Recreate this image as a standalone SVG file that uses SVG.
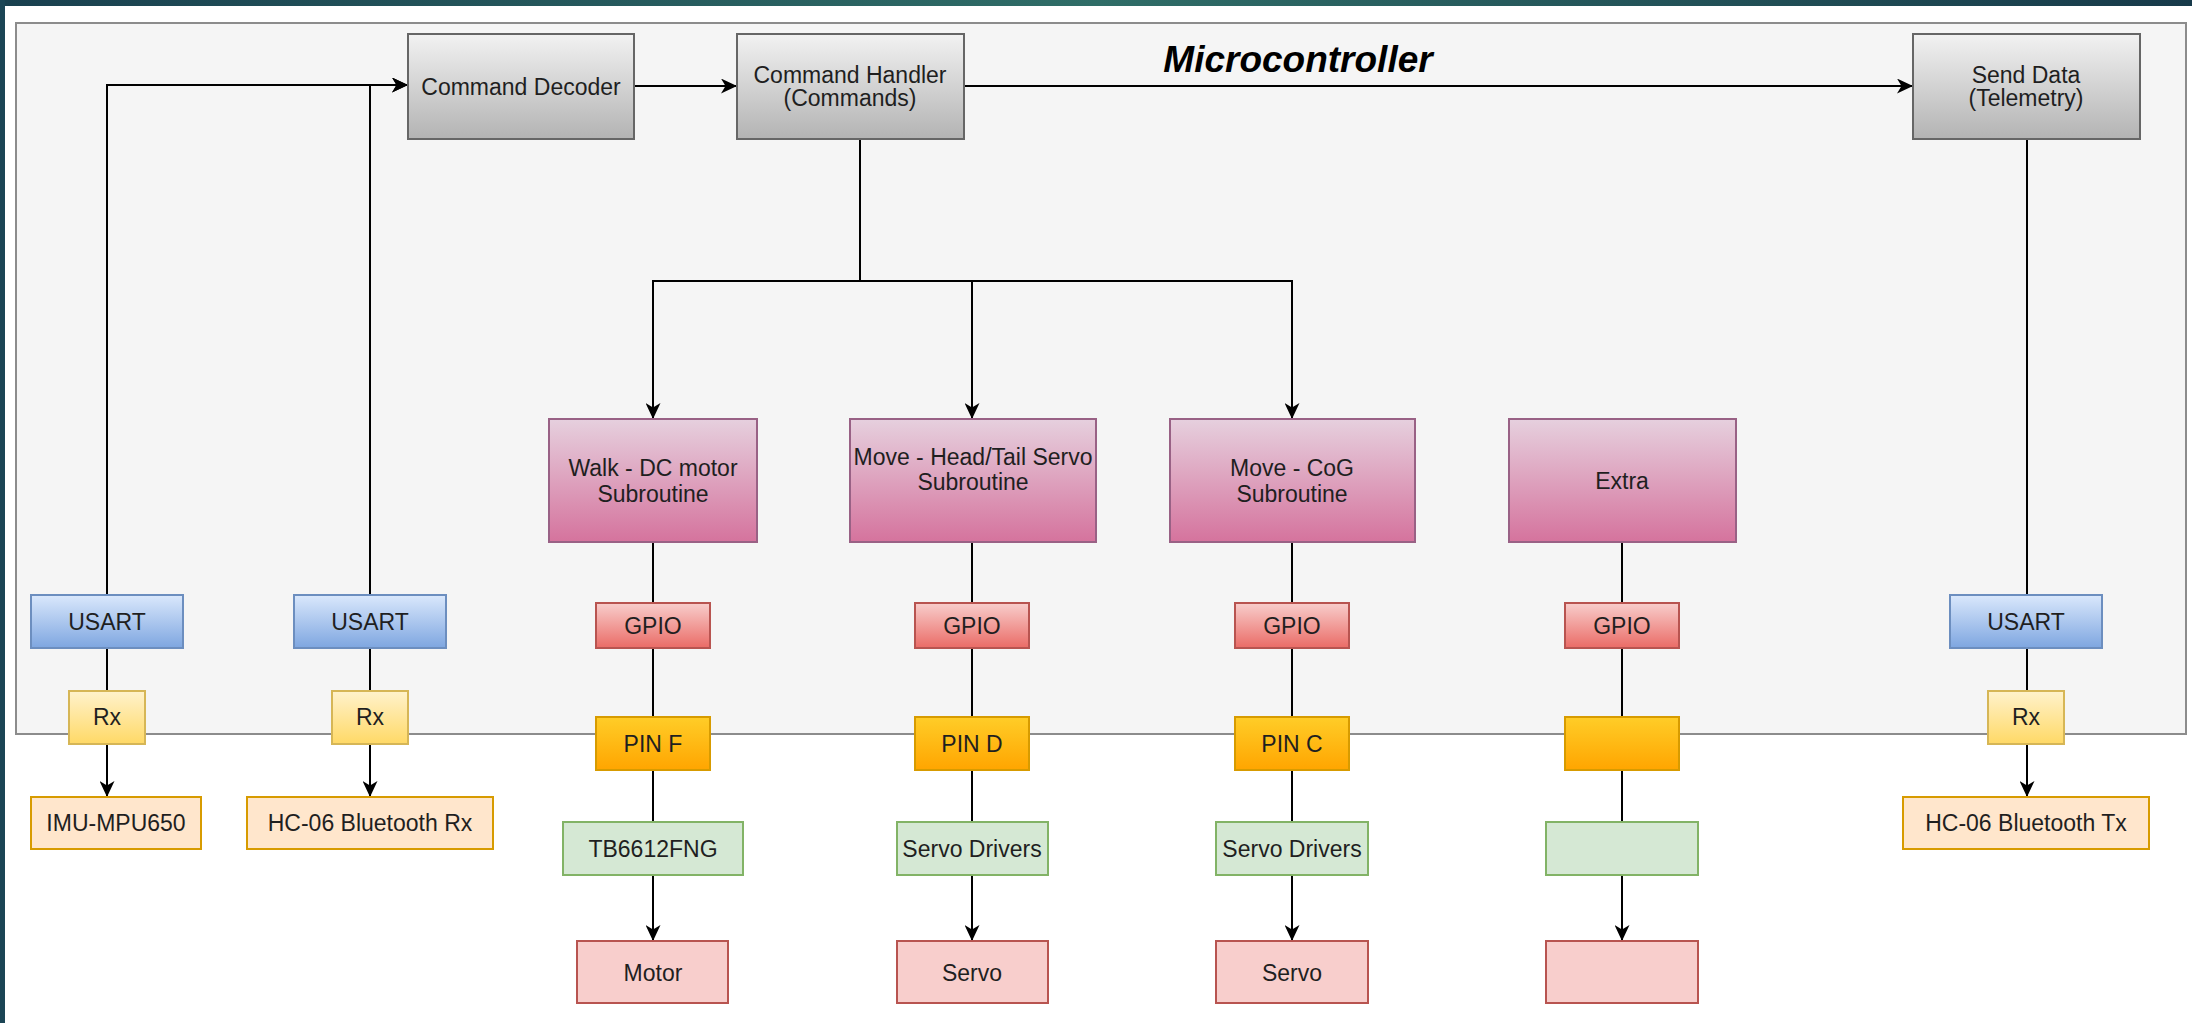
<svg xmlns="http://www.w3.org/2000/svg" width="2192" height="1023" viewBox="0 0 2192 1023">
<defs>
<linearGradient id="band" x1="0" y1="0" x2="1" y2="0">
<stop offset="0" stop-color="#19404f"/><stop offset="0.5" stop-color="#2f6d67"/><stop offset="1" stop-color="#173a4a"/>
</linearGradient>
<linearGradient id="gGray" x1="0" y1="0" x2="0" y2="1"><stop offset="0" stop-color="#f2f2f2"/><stop offset="1" stop-color="#b3b3b3"/></linearGradient>
<linearGradient id="gPink" x1="0" y1="0" x2="0" y2="1"><stop offset="0" stop-color="#e6d0de"/><stop offset="1" stop-color="#d5739d"/></linearGradient>
<linearGradient id="gBlue" x1="0" y1="0" x2="0" y2="1"><stop offset="0" stop-color="#dae8fc"/><stop offset="1" stop-color="#7ea6e0"/></linearGradient>
<linearGradient id="gRed" x1="0" y1="0" x2="0" y2="1"><stop offset="0" stop-color="#f8cecc"/><stop offset="1" stop-color="#ea6b66"/></linearGradient>
<linearGradient id="gYel" x1="0" y1="0" x2="0" y2="1"><stop offset="0" stop-color="#fff2cc"/><stop offset="1" stop-color="#ffd966"/></linearGradient>
<linearGradient id="gOra" x1="0" y1="0" x2="0" y2="1"><stop offset="0" stop-color="#ffcd28"/><stop offset="1" stop-color="#ffa500"/></linearGradient>
<marker id="arr" markerUnits="userSpaceOnUse" markerWidth="17" markerHeight="15" viewBox="0 0 17 15" refX="16" refY="7.5" orient="auto">
<path d="M0,0 L16,7.5 L0,15 L4.5,7.5 Z" fill="#000"/>
</marker>
<style>
.t{font-family:"Liberation Sans",Arial,Helvetica,sans-serif;font-size:23px;fill:#1f1f1f;text-anchor:middle}
.title{font-family:"Liberation Sans",Arial,Helvetica,sans-serif;font-size:37px;font-weight:bold;font-style:italic;fill:#000;text-anchor:middle}
.gray{fill:url(#gGray);stroke:#666;stroke-width:2}
.pink{fill:url(#gPink);stroke:#996185;stroke-width:2}
.blue{fill:url(#gBlue);stroke:#6c8ebf;stroke-width:2}
.red{fill:url(#gRed);stroke:#b85450;stroke-width:2}
.yel{fill:url(#gYel);stroke:#d6b656;stroke-width:2}
.ora{fill:url(#gOra);stroke:#d79b00;stroke-width:2}
.grn{fill:#d5e8d4;stroke:#82b366;stroke-width:2}
.act{fill:#f8cecc;stroke:#b85450;stroke-width:2}
.dev{fill:#ffe6cc;stroke:#d79b00;stroke-width:2}
.c{fill:none;stroke:#000;stroke-width:2}
.ca{fill:none;stroke:#000;stroke-width:2;marker-end:url(#arr)}
</style>
</defs>
<rect x="0" y="0" width="2192" height="1023" fill="#fff"/>
<rect x="0" y="0" width="2192" height="6" fill="url(#band)"/>
<rect x="0" y="0" width="5" height="1023" fill="#1b4555"/>

<g id="microcontroller">
<rect x="16" y="23" width="2170" height="711" fill="#f5f5f5" stroke="#8c8c8c" stroke-width="2"/>
<text class="title" x="1298" y="72">Microcontroller</text>
</g>

<g id="connectors">
<path class="ca" d="M107,595 V85 H408"/>
<path class="ca" d="M370,595 V85 H408"/>
<path class="ca" d="M634,86 H737"/>
<path class="ca" d="M964,86 H1913"/>
<path class="ca" d="M860,139 V281 H653 V419"/>
<path class="ca" d="M860,139 V281 H972 V419"/>
<path class="ca" d="M860,139 V281 H1292 V419"/>
<path class="c" d="M2027,139 V595"/>
<path class="c" d="M107,648 V691"/>
<path class="ca" d="M107,744 V797"/>
<path class="c" d="M370,648 V691"/>
<path class="ca" d="M370,744 V797"/>
<path class="c" d="M2027,648 V691"/>
<path class="ca" d="M2027,744 V797"/>
<path class="c" d="M653,542 V603"/>
<path class="c" d="M653,648 V717"/>
<path class="c" d="M653,770 V822"/>
<path class="ca" d="M653,875 V941"/>
<path class="c" d="M972,542 V603"/>
<path class="c" d="M972,648 V717"/>
<path class="c" d="M972,770 V822"/>
<path class="ca" d="M972,875 V941"/>
<path class="c" d="M1292,542 V603"/>
<path class="c" d="M1292,648 V717"/>
<path class="c" d="M1292,770 V822"/>
<path class="ca" d="M1292,875 V941"/>
<path class="c" d="M1622,542 V603"/>
<path class="c" d="M1622,648 V717"/>
<path class="c" d="M1622,770 V822"/>
<path class="ca" d="M1622,875 V941"/>
</g>

<g id="command-decoder"><rect class="gray" x="408" y="34" width="226" height="105"/><text class="t" x="521" y="95">Command Decoder</text></g>
<g id="command-handler"><rect class="gray" x="737" y="34" width="227" height="105"/><text class="t" x="850" y="83">Command Handler</text><text class="t" x="850" y="106">(Commands)</text></g>
<g id="send-data"><rect class="gray" x="1913" y="34" width="227" height="105"/><text class="t" x="2026" y="83">Send Data</text><text class="t" x="2026" y="106">(Telemetry)</text></g>

<g id="walk"><rect class="pink" x="549" y="419" width="208" height="123"/><text class="t" x="653" y="476">Walk - DC motor</text><text class="t" x="653" y="502">Subroutine</text></g>
<g id="move-head"><rect class="pink" x="850" y="419" width="246" height="123"/><text class="t" x="973" y="465">Move - Head/Tail Servo</text><text class="t" x="973" y="490">Subroutine</text></g>
<g id="move-cog"><rect class="pink" x="1170" y="419" width="245" height="123"/><text class="t" x="1292" y="476">Move - CoG</text><text class="t" x="1292" y="502">Subroutine</text></g>
<g id="extra"><rect class="pink" x="1509" y="419" width="227" height="123"/><text class="t" x="1622" y="489">Extra</text></g>

<g id="gpio-1"><rect class="red" x="596" y="603" width="114" height="45"/><text class="t" x="653" y="634">GPIO</text></g>
<g id="gpio-2"><rect class="red" x="915" y="603" width="114" height="45"/><text class="t" x="972" y="634">GPIO</text></g>
<g id="gpio-3"><rect class="red" x="1235" y="603" width="114" height="45"/><text class="t" x="1292" y="634">GPIO</text></g>
<g id="gpio-4"><rect class="red" x="1565" y="603" width="114" height="45"/><text class="t" x="1622" y="634">GPIO</text></g>

<g id="pin-f"><rect class="ora" x="596" y="717" width="114" height="53"/><text class="t" x="653" y="752">PIN F</text></g>
<g id="pin-d"><rect class="ora" x="915" y="717" width="114" height="53"/><text class="t" x="972" y="752">PIN D</text></g>
<g id="pin-c"><rect class="ora" x="1235" y="717" width="114" height="53"/><text class="t" x="1292" y="752">PIN C</text></g>
<g id="pin-4"><rect class="ora" x="1565" y="717" width="114" height="53"/></g>

<g id="tb6612fng"><rect class="grn" x="563" y="822" width="180" height="53"/><text class="t" x="653" y="857">TB6612FNG</text></g>
<g id="servo-drivers-1"><rect class="grn" x="897" y="822" width="151" height="53"/><text class="t" x="972" y="857">Servo Drivers</text></g>
<g id="servo-drivers-2"><rect class="grn" x="1216" y="822" width="152" height="53"/><text class="t" x="1292" y="857">Servo Drivers</text></g>
<g id="driver-4"><rect class="grn" x="1546" y="822" width="152" height="53"/></g>

<g id="motor"><rect class="act" x="577" y="941" width="151" height="62"/><text class="t" x="653" y="981">Motor</text></g>
<g id="servo-1"><rect class="act" x="897" y="941" width="151" height="62"/><text class="t" x="972" y="981">Servo</text></g>
<g id="servo-2"><rect class="act" x="1216" y="941" width="152" height="62"/><text class="t" x="1292" y="981">Servo</text></g>
<g id="actuator-4"><rect class="act" x="1546" y="941" width="152" height="62"/></g>

<g id="usart-1"><rect class="blue" x="31" y="595" width="152" height="53"/><text class="t" x="107" y="630">USART</text></g>
<g id="usart-2"><rect class="blue" x="294" y="595" width="152" height="53"/><text class="t" x="370" y="630">USART</text></g>
<g id="usart-3"><rect class="blue" x="1950" y="595" width="152" height="53"/><text class="t" x="2026" y="630">USART</text></g>

<g id="rx-1"><rect class="yel" x="69" y="691" width="76" height="53"/><text class="t" x="107" y="725">Rx</text></g>
<g id="rx-2"><rect class="yel" x="332" y="691" width="76" height="53"/><text class="t" x="370" y="725">Rx</text></g>
<g id="rx-3"><rect class="yel" x="1988" y="691" width="76" height="53"/><text class="t" x="2026" y="725">Rx</text></g>

<g id="imu"><rect class="dev" x="31" y="797" width="170" height="52"/><text class="t" x="116" y="831">IMU-MPU650</text></g>
<g id="hc06-rx"><rect class="dev" x="247" y="797" width="246" height="52"/><text class="t" x="370" y="831">HC-06 Bluetooth Rx</text></g>
<g id="hc06-tx"><rect class="dev" x="1903" y="797" width="246" height="52"/><text class="t" x="2026" y="831">HC-06 Bluetooth Tx</text></g>
</svg>
